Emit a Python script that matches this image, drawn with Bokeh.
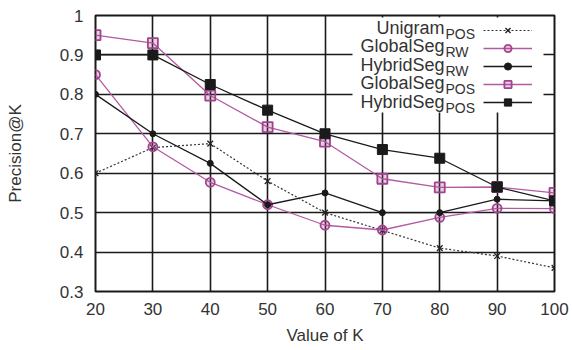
from bokeh.plotting import figure
from bokeh.models import (Legend, LegendItem, Label, BoxAnnotation, FixedTicker)
from bokeh.embed import file_html
from bokeh.resources import INLINE

# ---- data ----
k_values = [20, 30, 40, 50, 60, 70, 80, 90, 100]
unigram_pos = [0.60, 0.665, 0.675, 0.58, 0.50, 0.455, 0.41, 0.39, 0.36]
globalseg_rw = [0.85, 0.667, 0.577, 0.52, 0.468, 0.456, 0.488, 0.511, 0.51]
hybridseg_rw = [0.80, 0.70, 0.625, 0.52, 0.55, 0.50, 0.50, 0.534, 0.53]
globalseg_pos = [0.95, 0.93, 0.797, 0.717, 0.68, 0.586, 0.564, 0.565, 0.55]
hybridseg_pos = [0.90, 0.90, 0.825, 0.76, 0.70, 0.66, 0.638, 0.565, 0.53]

x_ticks = [20, 30, 40, 50, 60, 70, 80, 90, 100]
y_ticks = [0.3, 0.4, 0.5, 0.6, 0.7, 0.8, 0.9, 1.0]
y_tick_labels = ["0.3", "0.4", "0.5", "0.6", "0.7", "0.8", "0.9", "1"]

series_names = ["Unigram", "GlobalSeg", "HybridSeg", "GlobalSeg", "HybridSeg"]
series_subs = ["POS", "RW", "RW", "POS", "POS"]

PINK = "#a3428f"
PINK_LINE = "#b45aa0"
BLACK = "#1a1a1a"
TXT = "#333333"
FONT = "Liberation Sans"

p = figure(frame_width=459, frame_height=276, output_backend="svg",
           toolbar_location=None,
           x_range=(20, 100), y_range=(0.3, 1.0),
           min_border_left=95, min_border_right=16, min_border_top=15,
           min_border_bottom=59)
p.outline_line_color = BLACK
p.outline_line_width = 2
p.background_fill_color = "white"

for ax in (p.xaxis, p.yaxis):
    ax.axis_line_color = None
    ax.major_tick_line_color = None
    ax.minor_tick_line_color = None
    ax.major_tick_out = 0
    ax.major_tick_in = 0
    ax.minor_tick_out = 0
    ax.major_label_text_font = FONT
    ax.major_label_text_font_size = "17px"
    ax.major_label_text_color = TXT
    ax.axis_label_text_font = FONT
    ax.axis_label_text_font_size = "17px"
    ax.axis_label_text_font_style = "normal"
    ax.axis_label_text_color = TXT

p.xaxis.ticker = FixedTicker(ticks=x_ticks)
p.yaxis.ticker = FixedTicker(ticks=y_ticks)
p.yaxis.major_label_overrides = {t: l for t, l in zip(y_ticks, y_tick_labels)}
p.xaxis.major_label_standoff = 11
p.yaxis.major_label_standoff = 12
p.xaxis.axis_label = "Value of K"
p.yaxis.axis_label = "Precision@K"
p.xaxis.axis_label_standoff = 8
p.yaxis.axis_label_standoff = 32

p.xgrid.ticker = FixedTicker(ticks=x_ticks)
p.ygrid.ticker = FixedTicker(ticks=y_ticks)
for g in (p.xgrid, p.ygrid):
    g.grid_line_color = BLACK
    g.grid_line_width = 1.6

# ---- series ----
l1 = p.line(k_values, unigram_pos, line_color="#333333", line_width=1.2, line_dash="2 2")
m1 = p.scatter(k_values, unigram_pos, marker="x", size=8, line_color="#222222", line_width=1.3)

l2 = p.line(k_values, globalseg_rw, line_color=PINK_LINE, line_width=1.3)
m2 = p.scatter(k_values, globalseg_rw, marker="circle", size=9, line_color=PINK,
               line_width=1.8, fill_color=PINK, fill_alpha=0.25)

l3 = p.line(k_values, hybridseg_rw, line_color=BLACK, line_width=1.3)
m3 = p.scatter(k_values, hybridseg_rw, marker="circle", size=6, line_color=BLACK,
               fill_color=BLACK)

l4 = p.line(k_values, globalseg_pos, line_color=PINK_LINE, line_width=1.3)
m4 = p.scatter(k_values, globalseg_pos, marker="square", size=10, line_color=PINK,
               line_width=1.8, fill_color=PINK, fill_alpha=0.25)

l5 = p.line(k_values, hybridseg_pos, line_color=BLACK, line_width=1.3)
m5 = p.scatter(k_values, hybridseg_pos, marker="square", size=10, line_color=BLACK,
               fill_color=BLACK)

# ---- legend: white background box ----
box = BoxAnnotation(left=257, right=448, top=274, bottom=179,
                    left_units="screen", right_units="screen",
                    top_units="screen", bottom_units="screen",
                    fill_color="white", fill_alpha=1.0, line_color=None,
                    level="underlay")
p.add_layout(box)

# legend samples (glyphs only)
items = [LegendItem(label=" ", renderers=[l, m]) for l, m in
         [(l1, m1), (l2, m2), (l3, m3), (l4, m4), (l5, m5)]]
leg = Legend(items=items, location=(388, 180), glyph_width=49, glyph_height=18,
             label_height=18, label_width=0, label_standoff=0, spacing=0,
             padding=0, margin=0, border_line_color=None,
             background_fill_alpha=0, label_text_font_size="6px")
p.add_layout(leg)

# legend texts (right aligned, with subscripts)
row_y0 = 263
row_step = 18.5
for i, (name, sub) in enumerate(zip(series_names, series_subs)):
    yy = row_y0 - i * row_step
    p.add_layout(Label(x=349, y=yy + 1, x_units="screen", y_units="screen",
                       text=name, text_align="right", text_baseline="middle",
                       text_font=FONT, text_font_size="18px", text_color=TXT))
    p.add_layout(Label(x=350, y=yy - 5, x_units="screen", y_units="screen",
                       text=sub, text_align="left", text_baseline="middle",
                       text_font=FONT, text_font_size="14px", text_color=TXT))

open("out.html", "w").write(file_html(p, INLINE))
